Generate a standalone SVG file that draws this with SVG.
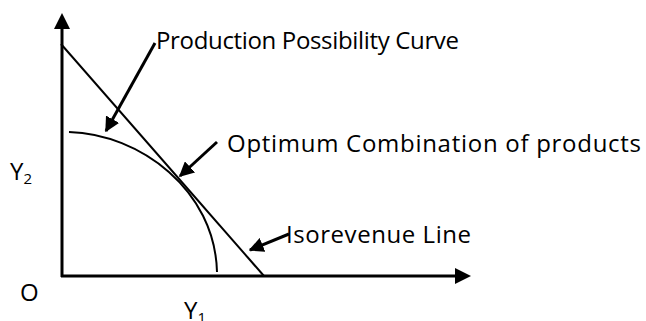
<svg xmlns="http://www.w3.org/2000/svg" width="646" height="321" viewBox="0 0 646 321">
<style>
.t{font-family:"Open Sans","Liberation Sans",sans-serif;font-size:24px;fill:#000}
.s{font-size:15px}
.ax{stroke:#000;stroke-width:3;fill:none}
.ln{stroke:#000;stroke-width:2;fill:none}
.ar{stroke:#000;stroke-width:3;fill:none;marker-end:url(#ah)}
</style>
<defs>
<marker id="ah" viewBox="0 0 10 10" refX="9" refY="5" markerWidth="5" markerHeight="5" markerUnits="strokeWidth" orient="auto">
<path d="M0,0 L10,5 L0,10 z" fill="#000"/>
</marker>
</defs>
<rect width="646" height="321" fill="#fff"/>
<g id="axes">
<line class="ax" x1="62" y1="277" x2="62" y2="28"/>
<path d="M54,29 L62,13 L70,29 z" fill="#000"/>
<line class="ax" x1="61" y1="276" x2="456" y2="276"/>
<path d="M455,268 L471,276 L455,284 z" fill="#000"/>
</g>
<g id="isorevenue-line"><line class="ln" x1="61" y1="44" x2="264" y2="276"/></g>
<g id="ppc-curve"><path class="ln" d="M69,132 C140,134 215,190 217,272"/></g>
<g id="connectors">
<line class="ar" x1="155" y1="43" x2="106" y2="131"/>
<line class="ar" x1="217" y1="142" x2="180" y2="176"/>
<line class="ar" x1="289" y1="234" x2="250" y2="250"/>
</g>
<g id="labels">
<text class="t" x="156" y="49" textLength="303">Production Possibility Curve</text>
<text class="t" x="227" y="152" textLength="414">Optimum Combination of products</text>
<text class="t" x="286" y="243" textLength="185">Isorevenue Line</text>
<text class="t" x="10" y="180">Y<tspan class="s" dy="4">2</tspan></text>
<text class="t" x="20" y="301">O</text>
<text class="t" x="184" y="319">Y<tspan class="s" dy="4">1</tspan></text>
</g>
</svg>
